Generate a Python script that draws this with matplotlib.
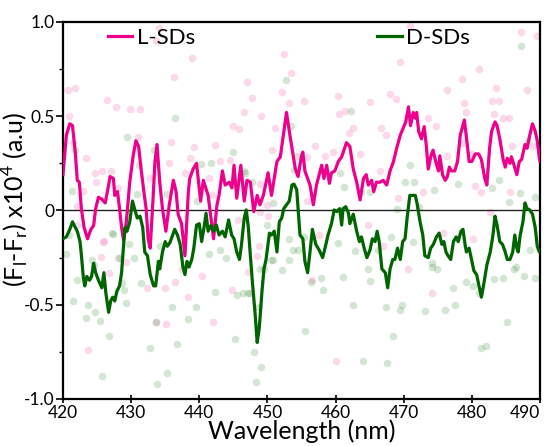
import matplotlib
matplotlib.use('Agg')
import matplotlib.pyplot as plt
from matplotlib.ticker import MultipleLocator, FixedLocator, FixedFormatter

plt.rcParams['font.family'] = ['Lato', 'DejaVu Sans']
plt.rcParams['mathtext.fontset'] = 'custom'
plt.rcParams['mathtext.rm'] = 'Lato'

# smoothed CD-like traces
l_wl = [420.0, 420.5, 421.0, 421.4, 421.8, 422.1, 422.4, 422.7, 423.1, 423.6, 424.1, 424.5,
        424.8, 425.2, 425.7, 426.2, 426.7, 426.9, 427.4, 427.6, 428.0, 428.3, 428.6, 428.9,
        429.3, 429.8, 430.3, 430.7, 431.1, 431.4, 431.8, 432.2, 432.5, 432.8, 433.2, 433.5,
        433.8, 434.2, 434.6, 435.1, 435.6, 436.2, 436.6, 436.9, 437.4, 437.9, 438.4, 438.6,
        439.1, 439.6, 440.2, 440.6, 441.3, 442.1, 442.6, 442.9, 443.4, 443.8, 444.4, 444.8,
        445.1, 445.5, 446.1, 446.6, 447.0, 447.5, 448.0, 448.5, 448.9, 449.4, 450.1, 450.6,
        451.4, 451.9, 452.8, 453.3, 454.1, 454.5, 455.0, 455.2, 455.5, 455.9, 456.25, 456.74,
        457.2, 457.6, 457.96, 458.3, 458.7, 459.1, 459.4, 459.9, 460.4, 460.9, 461.6, 462.1,
        462.6, 463.1, 463.6, 464.1, 464.5, 464.8, 465.3, 465.6, 466.0, 466.5, 467.0, 467.5,
        468.0, 468.5, 468.97, 469.5, 469.95, 470.3, 470.7, 471.0, 471.4, 471.7, 471.9, 472.2,
        472.6, 473.0, 473.3, 473.6, 474.0, 474.3, 474.7, 475.1, 475.3, 475.7, 476.1, 476.4,
        476.7, 477.0, 477.5, 477.9, 478.3, 478.6, 478.9, 479.2, 479.6, 480.0, 480.5, 481.0,
        481.4, 481.9, 482.2, 482.6, 482.9, 483.4, 483.7, 484.1, 484.6, 484.9, 485.2, 485.6,
        485.8, 486.2, 486.6, 486.97, 487.3, 487.8, 488.1, 488.5, 488.9, 489.3, 489.6, 489.9,
        490.0]
l_val = [0.19, 0.40, 0.46, 0.45, 0.31, 0.16, 0.15, 0.01, -0.09, -0.15, -0.10, -0.08,
         0.01, 0.07, 0.06, 0.04, 0.135, 0.18, 0.17, 0.08, 0.10, 0.01, -0.09, -0.16,
         -0.06, 0.15, 0.29, 0.37, 0.34, 0.24, 0.12, 0.01, -0.15, -0.20, 0.05, 0.26,
         0.35, 0.15, 0.01, -0.11, 0.03, 0.16, 0.10, -0.02, -0.07, -0.24, 0.10, 0.17,
         0.22, 0.25, 0.05, 0.16, 0.08, -0.15, 0.03, 0.08, 0.21, 0.135, 0.15, 0.12,
         0.24, 0.065, 0.24, 0.05, 0.16, 0.15, -0.006, 0.08, 0.03, 0.08, 0.20, 0.08,
         0.26, 0.285, 0.52, 0.40, 0.22, 0.18, 0.29, 0.31, 0.21, 0.17, 0.135, 0.03,
         0.135, 0.19, 0.24, 0.17, 0.24, 0.144, 0.20, 0.21, 0.26, 0.285, 0.36, 0.34,
         0.22, 0.15, 0.056, 0.17, 0.19, 0.135, 0.16, 0.10, 0.15, 0.15, 0.16, 0.135,
         0.21, 0.26, 0.33, 0.40, 0.44, 0.47, 0.55, 0.45, 0.52, 0.49, 0.52, 0.42,
         0.38, 0.445, 0.35, 0.22, 0.29, 0.32, 0.26, 0.21, 0.29, 0.19, 0.16, 0.18,
         0.23, 0.21, 0.21, 0.26, 0.40, 0.44, 0.48, 0.39, 0.26, 0.26, 0.30, 0.30,
         0.27, 0.17, 0.135, 0.33, 0.42, 0.47, 0.45, 0.38, 0.27, 0.23, 0.277, 0.25,
         0.285, 0.24, 0.19, 0.26, 0.27, 0.35, 0.33, 0.40, 0.46, 0.42, 0.37, 0.28,
         0.26]

d_wl = [420.0, 420.5, 421.0, 421.4, 421.8, 422.1, 422.5, 422.7, 423.0, 423.2, 423.5, 423.9,
        424.2, 424.5, 424.8, 425.2, 425.7, 426.0, 426.3, 426.7, 427.0, 427.3, 427.6, 427.9,
        428.3, 428.6, 428.9, 429.1, 429.4, 429.8, 430.2, 430.5, 430.9, 431.3, 431.7, 432.0,
        432.4, 432.8, 433.3, 433.6, 434.0, 434.2, 434.6, 435.0, 435.3, 435.7, 436.1, 436.4,
        436.8, 437.2, 437.6, 437.9, 438.2, 438.5, 438.9, 439.2, 439.6, 440.0, 440.35, 440.7,
        441.0, 441.3, 441.7, 442.1, 442.5, 442.9, 443.4, 443.8, 444.3, 444.75, 445.1, 445.5,
        445.9, 446.2, 446.6, 446.9, 447.2, 447.5, 447.8, 448.2, 448.5, 448.8, 449.2, 449.5,
        449.8, 450.3, 450.6, 451.0, 451.4, 451.75, 452.1, 452.4, 452.8, 453.2, 453.6, 453.9,
        454.3, 454.78, 455.2, 455.5, 455.9, 456.25, 456.6, 457.1, 457.6, 458.1, 458.45, 458.9,
        459.4, 459.8, 460.2, 460.6, 460.9, 461.1, 461.5, 461.9, 462.1, 462.6, 463.1, 463.5,
        463.8, 464.2, 464.6, 465.05, 465.4, 465.8, 466.1, 466.4, 466.8, 467.3, 467.65, 468.0,
        468.4, 468.7, 469.1, 469.5, 469.85, 470.2, 470.5, 470.9, 471.3, 471.7, 472.0, 472.4,
        472.8, 473.1, 473.6, 473.96, 474.35, 474.8, 475.2, 475.6, 475.9, 476.2, 476.5, 476.9,
        477.3, 477.7, 478.0, 478.4, 478.7, 479.0, 479.2, 479.6, 479.95, 480.3, 480.7, 481.1,
        481.4, 481.8, 482.2, 482.7, 483.1, 483.4, 483.7, 484.1, 484.5, 484.9, 485.2, 485.6,
        486.0, 486.3, 486.6, 486.8, 487.1, 487.5, 487.8, 488.1, 488.5, 488.9, 489.3, 489.6,
        489.9, 490.0]
d_val = [-0.15, -0.14, -0.10, -0.06, -0.09, -0.11, -0.165, -0.236, -0.36, -0.40, -0.35, -0.37,
         -0.35, -0.28, -0.33, -0.37, -0.41, -0.33, -0.44, -0.54, -0.48, -0.46, -0.48, -0.43,
         -0.40, -0.33, -0.18, -0.09, -0.11, -0.06, 0.05, 0.01, -0.04, -0.03, -0.09, -0.22,
         -0.24, -0.34, -0.40, -0.40, -0.27, -0.31, -0.22, -0.165, -0.19, -0.17, -0.13, -0.10,
         -0.13, -0.18, -0.30, -0.34, -0.27, -0.30, -0.26, -0.20, -0.077, -0.07, -0.165, -0.09,
         -0.015, -0.11, -0.08, -0.11, -0.077, -0.13, -0.11, -0.14, -0.05, -0.13, -0.15, -0.22,
         -0.26, -0.18, -0.04, 0.003, -0.09, -0.24, -0.38, -0.55, -0.70, -0.625, -0.43, -0.31,
         -0.26, -0.12, -0.13, -0.11, -0.22, -0.06, -0.04, 0.01, 0.03, 0.05, 0.135, 0.14,
         0.11, -0.13, -0.15, -0.27, -0.33, -0.22, -0.10, -0.18, -0.21, -0.25, -0.20, -0.13,
         -0.07, 0.003, -0.006, 0.01, -0.077, 0.01, 0.02, -0.015, -0.07, -0.02, -0.11, -0.165,
         -0.14, -0.20, -0.25, -0.21, -0.15, -0.165, -0.11, -0.165, -0.31, -0.33, -0.41, -0.31,
         -0.26, -0.26, -0.20, -0.26, -0.165, -0.15, -0.04, 0.08, 0.08, 0.08, 0.03, -0.06,
         -0.13, -0.24, -0.25, -0.20, -0.18, -0.14, -0.12, -0.18, -0.165, -0.22, -0.24, -0.26,
         -0.165, -0.14, -0.165, -0.11, -0.10, -0.18, -0.22, -0.20, -0.26, -0.32, -0.34, -0.41,
         -0.46, -0.38, -0.29, -0.22, -0.13, -0.03, -0.077, -0.165, -0.18, -0.22, -0.26, -0.26,
         -0.22, -0.13, -0.20, -0.22, -0.13, -0.06, 0.04, 0.01, 0.003, -0.02, -0.09, -0.19,
         -0.22, -0.22]

# raw (unsmoothed) points, faint in the background
l_raw_wl = [420.8, 421.8, 420.9, 426.4, 427.8, 429.9, 431.3, 434.1, 433.7, 439.0, 436.3, 447.0,
            447.8, 446.6, 449.1, 452.4, 453.5, 452.1, 453.2, 455.4, 445.0, 445.9, 451.1, 450.7,
            442.3, 439.3, 435.8, 435.5, 423.4, 424.7, 425.8, 427.0, 438.7, 443.0, 444.5, 437.9,
            441.5, 432.7, 431.0, 421.5, 423.0, 424.9, 449.9, 455.8, 448.9,
            470.9, 469.5, 481.1, 478.6, 476.4, 483.5, 488.1, 487.2, 489.5, 460.3, 465.0, 468.0,
            468.8, 460.5, 461.4, 478.8, 482.9, 484.0, 483.2, 484.5, 485.4, 479.2, 462.5, 462.0,
            466.6, 467.4, 473.6, 474.8, 457.0, 459.6, 458.4, 463.6, 466.5, 478.5, 485.9, 489.0,
            480.0, 481.4, 480.5, 485.6, 472.9, 469.1, 482.7, 455.8, 476.3,
            423.7, 433.6, 435.1, 442.0, 438.4, 436.5, 434.9, 432.4, 444.8, 426.7, 425.6, 429.3,
            426.0, 448.5, 448.8, 422.0,
            456.5, 474.2, 470.7, 457.6, 460.1, 480.2, 475.8, 467.0, 464.7,
            422.1, 425.9, 428.3, 428.1, 437.4, 441.8, 447.2, 440.4, 448.9, 450.1, 445.7]
l_raw_val = [0.64, 0.65, 0.50, 0.586, 0.55, 0.54, 0.54, 0.97, 0.90, 0.81, 0.71, 0.68,
             0.595, 0.52, 0.50, 0.83, 0.73, 0.63, 0.57, 0.58, 0.45, 0.43, 0.44, 0.32,
             0.35, 0.335, 0.365, 0.25, 0.28, 0.20, 0.21, 0.21, 0.28, 0.26, 0.27, 0.20,
             0.17, 0.17, 0.39, 0.36, 0.105, 0.15, 0.03, 0.05, 0.14,
             0.98, 0.79, 0.75, 0.70, 0.64, 0.65, 0.64, 0.945, 0.925, 0.61, 0.576, 0.62,
             0.59, 0.51, 0.53, 0.57, 0.58, 0.58, 0.51, 0.49, 0.49, 0.52, 0.44, 0.41,
             0.44, 0.40, 0.49, 0.45, 0.34, 0.31, 0.29, 0.30, 0.21, 0.36, 0.34, 0.34,
             0.30, 0.10, 0.13, 0.10, 0.10, 0.065, -0.006, 0.285, 0.29,
             -0.74, -0.59, -0.60, -0.59, -0.46, -0.38, -0.41, -0.41, -0.42, -0.33, -0.245, -0.275,
             -0.16, -0.24, -0.19, -0.077,
             -0.37, -0.44, -0.31, -0.13, -0.80, -0.15, -0.12, -0.19, -0.077,
             0.025, -0.165, -0.25, 0.12, -0.31, 0.08, -0.325, -0.35, -0.006, -0.03, -0.05]

d_raw_wl = [452.7, 436.5, 429.4, 433.3, 431.2, 445.0, 441.7, 440.2, 453.4, 454.3, 453.9, 421.3,
            421.8, 446.7, 430.8, 439.6, 435.3, 450.8, 447.7,
            487.2, 462.2, 488.3, 470.2, 471.5, 470.9, 478.0, 482.9, 484.0, 460.6, 461.2, 463.7,
            465.1, 474.5, 485.4, 487.1, 489.3, 469.0, 472.3,
            421.5, 423.4, 423.7, 424.7, 425.5, 425.8, 426.7, 429.2, 431.5, 429.0, 432.7, 433.8,
            435.2, 436.0, 436.8, 438.3, 439.5, 442.3, 445.3, 445.5, 446.4, 447.4, 448.0, 448.3,
            449.1, 455.5, 420.4, 422.1, 424.5, 427.3, 428.1, 443.1, 443.9, 450.0, 450.8, 452.2,
            449.5, 453.2, 454.5, 433.6,
            464.1, 467.6, 468.5, 462.5, 467.4, 469.5, 469.8, 473.1, 476.1, 477.5, 481.3, 482.1,
            485.1, 458.1, 461.1, 465.0, 464.8, 457.9, 456.4, 474.2, 474.9, 477.3, 479.1, 480.1,
            481.1, 483.2, 484.6, 486.2, 486.5, 487.7, 489.2, 488.5, 455.3, 460.3, 462.8, 466.2,
            468.1, 471.3, 474.1,
            420.9, 424.2, 427.2, 429.7, 428.6, 430.4, 434.2, 446.5, 441.5, 453.8, 453.1, 450.6,
            448.9, 447.2, 448.7]
d_raw_val = [0.69, 0.49, 0.39, 0.32, 0.24, 0.31, 0.25, 0.247, 0.45, 0.29, 0.215, 0.105,
             0.32, 0.20, 0.09, 0.05, 0.09, 0.04, 0.15,
             0.87, 0.53, 0.37, 0.15, 0.15, 0.24, 0.14, 0.12, 0.16, 0.20, 0.126, 0.10,
             0.10, 0.11, 0.047, 0.094, 0.073, 0.01, 0.017,
             -0.48, -0.57, -0.50, -0.54, -0.585, -0.88, -0.666, -0.49, -0.386, -0.42, -0.73, -0.92,
             -0.86, -0.51, -0.71, -0.577, -0.51, -0.43, -0.68, -0.45, -0.44, -0.44, -0.75, -0.91,
             -0.83, -0.64, -0.23, -0.37, -0.29, -0.125, -0.25, -0.21, -0.25, -0.077, -0.26, -0.316,
             -0.31, -0.15, -0.21, -0.59,
             -0.80, -0.81, -0.666, -0.50, -0.51, -0.53, -0.50, -0.535, -0.53, -0.50, -0.73, -0.72,
             -0.59, -0.42, -0.355, -0.376, -0.31, -0.36, -0.38, -0.30, -0.31, -0.41, -0.38, -0.40,
             -0.44, -0.365, -0.36, -0.31, -0.30, -0.345, -0.36, -0.21, -0.14, -0.174, -0.215, -0.21,
             -0.14, -0.165, -0.28,
             -0.13, -0.26, -0.12, -0.18, -0.386, -0.25, -0.19, 0.21, -0.23, -0.21, -0.26, -0.26,
             -0.31, -0.44, -0.51]

x_ticks = [420, 430, 440, 450, 460, 470, 480, 490]
y_ticks = [-1.0, -0.5, 0.0, 0.5, 1.0]
y_ticklabels = ['-1.0', '-0.5', '0', '0.5', '1.0']

PINK = '#ec008c'
GREEN = '#006400'

fig = plt.figure(figsize=(5.5, 4.46), dpi=100)
ax = fig.add_axes([0.1145, 0.1054, 0.8673, 0.8453])

ax.scatter(l_raw_wl, l_raw_val, s=30, color='#f06aae', alpha=0.25, linewidths=0, zorder=1)
ax.scatter(d_raw_wl, d_raw_val, s=30, color='#3a8a3a', alpha=0.22, linewidths=0, zorder=1)
ax.axhline(0, color='#222222', lw=1.0, zorder=2)
ax.plot(l_wl, l_val, color=PINK, lw=2.3, label='L-SDs', zorder=3)
ax.plot(d_wl, d_val, color=GREEN, lw=2.3, label='D-SDs', zorder=3)

ax.set_xlim(420, 490)
ax.set_ylim(-1.0, 1.0)
ax.xaxis.set_major_locator(FixedLocator(x_ticks))
ax.yaxis.set_major_locator(FixedLocator(y_ticks))
ax.yaxis.set_major_formatter(FixedFormatter(y_ticklabels))
ax.yaxis.set_minor_locator(MultipleLocator(0.25))
ax.tick_params(axis='x', direction='inout', length=6, width=1.2, labelsize=12.5, pad=1)
ax.tick_params(axis='y', which='major', direction='out', length=5, width=1.2, labelsize=12.5, pad=1)
ax.tick_params(axis='y', which='minor', direction='out', length=3, width=1.0)
for sp in ax.spines.values():
    sp.set_linewidth(1.6)

# keep the last x label inside the figure
ax.xaxis.get_major_ticks()[-1].label1.set_horizontalalignment('right')

ax.set_xlabel('Wavelength (nm)', fontsize=18, labelpad=-1)
ax.set_ylabel(r'(F$_\mathregular{l}$-F$_\mathregular{r}$) x10$^\mathregular{4}$ (a.u)',
              fontsize=18)
ax.yaxis.set_label_coords(-0.066, 0.53)

ax.legend(loc='upper left', bbox_to_anchor=(0.094, 0.985), ncol=2, frameon=False,
          fontsize=16, handlelength=1.1, handletextpad=0.2, columnspacing=8.2,
          borderpad=0, borderaxespad=0)

fig.savefig('out.png', dpi=100)
